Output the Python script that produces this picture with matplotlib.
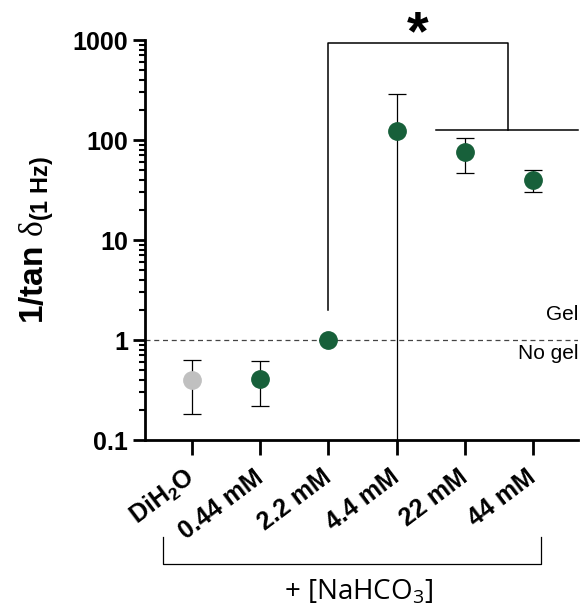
import numpy as np
import matplotlib
matplotlib.use("Agg")
import matplotlib.pyplot as plt
import matplotlib.transforms as mtransforms

plt.rcParams['font.family'] = ['Liberation Sans', 'DejaVu Sans']
plt.rcParams['mathtext.fontset'] = 'custom'
plt.rcParams['mathtext.rm'] = 'Liberation Serif'
plt.rcParams['mathtext.bf'] = 'Liberation Sans:bold'
plt.rcParams['mathtext.sf'] = 'Open Sans'
plt.rcParams['mathtext.it'] = 'Liberation Sans:italic'

# data
groups = [r"DiH$_\mathbf{2}$O", "0.44 mM", "2.2 mM", "4.4 mM", "22 mM", "44 mM"]
means = [0.40, 0.41, 1.0, 122, 76, 40]
err_low = [0.18, 0.22, 1.0, 0.05, 47, 30]
err_high = [0.63, 0.62, 1.0, 290, 105, 50]
colors = ["#c0c0c0", "#17603a", "#17603a", "#17603a", "#17603a", "#17603a"]

x = np.arange(len(groups))
fig = plt.figure(figsize=(5.86, 6.12), dpi=100)
ax = fig.add_axes([145/586, 1 - 440/612, (578-145)/586, 400/612])

for xi, m, lo, hi, c in zip(x, means, err_low, err_high, colors):
    yerr = [[m - lo], [hi - m]]
    ax.errorbar([xi], [m], yerr=yerr, fmt='o', color=c, ecolor='black',
                elinewidth=0.9, capsize=6.8, capthick=0.9, markersize=12.5,
                zorder=3, clip_on=True)

ax.set_yscale('log')
ax.set_ylim(0.1, 1000)
ax.set_xlim(-0.69, 5.66)
ax.set_xticks(x)
ax.set_xticklabels(groups, rotation=37, ha='right', va='center', rotation_mode='anchor',
                   fontsize=18, fontweight='bold')
ax.set_yticks([0.1, 1, 10, 100, 1000])
ax.set_yticklabels(["0.1", "1", "10", "100", "1000"], fontsize=18, fontweight='bold')
ax.tick_params(axis='y', which='major', length=9, width=2, pad=3)
ax.tick_params(axis='y', which='minor', length=4.5, width=1.5)
ax.tick_params(axis='x', which='major', length=11, width=2, pad=14)
for s in ['top', 'right']:
    ax.spines[s].set_visible(False)
for s in ['left', 'bottom']:
    ax.spines[s].set_linewidth(2)

ax.set_ylabel(r'1/tan $\mathrm{\delta}_{\mathbf{(1\ Hz)}}$', fontsize=24, fontweight='bold')
ax.yaxis.set_label_coords(-0.205, 0.5)

# threshold line
ax.axhline(1, color='#444444', lw=0.9, ls=(0, (4, 3)), zorder=1)
ax.text(5.66, 1.78, "Gel", ha='right', va='center', fontsize=15)
ax.text(5.66, 0.74, "No gel", ha='right', va='center', fontsize=15)

# significance bracket
ax.plot([2, 2, 4.63, 4.63], [2.0, 930, 930, 125], color='black', lw=1.1, clip_on=False)
ax.plot([3.58, 5.66], [125, 125], color='black', lw=1.1, clip_on=False)
ax.text(3.31, 800, "*", ha='center', va='baseline', fontsize=40, fontweight='bold')

# group bracket below x labels
tr = mtransforms.blended_transform_factory(ax.transData, fig.transFigure)
y_top = 1 - 537/612
y_bot = 1 - 564/612
ax.plot([-0.43, -0.43, 5.12, 5.12], [y_top, y_bot, y_bot, y_top], color='black',
        lw=0.9, transform=tr, clip_on=False)
fig.text(358/586, 1 - 592/612, r"+ [NaHCO$_\mathsf{3}$]", ha='center', va='center',
         fontsize=20, family=['Open Sans', 'DejaVu Sans'])

fig.savefig("out.png", dpi=100)
